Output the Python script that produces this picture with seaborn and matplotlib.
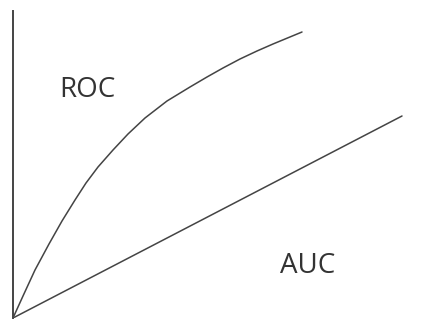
import matplotlib
matplotlib.use("Agg")
import matplotlib.pyplot as plt
import seaborn as sns
import pandas as pd

# ROC curve (conceptual), in chart units
roc_x = [0, 10, 22, 36, 49, 62, 73, 85, 100, 115, 132, 154, 177, 194, 210, 227, 244, 260, 289]
roc_y = [0, 22, 48, 74, 97, 118, 135, 151, 168, 184, 200, 217, 231, 241, 250, 259, 267, 274, 286]
# diagonal reference line
diag_x = [0, 389]
diag_y = [0, 202]
labels = ["ROC", "AUC"]

sns.set_style("white")
plt.rcParams['font.family'] = ['Open Sans', 'DejaVu Sans']

fig = plt.figure(figsize=(4.41, 3.21), dpi=100)
ax = fig.add_axes([13/441, 3/321, 420/441, 307/321])

roc_df = pd.DataFrame({"x": roc_x, "y": roc_y})
diag_df = pd.DataFrame({"x": diag_x, "y": diag_y})
sns.lineplot(data=roc_df, x="x", y="y", ax=ax, color="#444444", lw=1.1, sort=False)
sns.lineplot(data=diag_df, x="x", y="y", ax=ax, color="#444444", lw=1.1, sort=False)

ax.set_xlim(0, 420)
ax.set_ylim(0, 307)
for s in ["top", "right", "bottom"]:
    ax.spines[s].set_visible(False)
ax.spines["left"].set_color("#444444")
ax.spines["left"].set_linewidth(1.4)
ax.set_xticks([])
ax.set_yticks([])
ax.set_xlabel("")
ax.set_ylabel("")
ax.patch.set_alpha(0)

ax.text(74.5, 221, labels[0], ha="center", va="baseline", fontsize=20, color="#333333")
ax.text(294.5, 45, labels[1], ha="center", va="baseline", fontsize=20, color="#333333")

fig.savefig("out.png", dpi=100)
